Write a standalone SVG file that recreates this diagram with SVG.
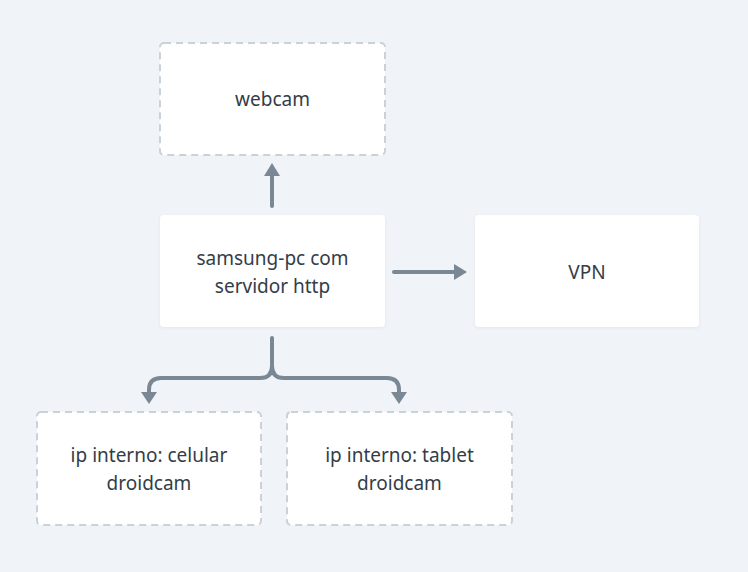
<svg xmlns="http://www.w3.org/2000/svg" width="748" height="572" viewBox="0 0 748 572">
<style>
.box{fill:#ffffff;rx:4px}
.dash{stroke:#c9d1d9;stroke-width:2;stroke-dasharray:7 5}
.solid{filter:url(#sh)}
.t{font-family:"Noto Sans","Open Sans",sans-serif;font-size:19px;fill:#333d48;text-anchor:middle}
.c{fill:none;stroke:#7a8895;stroke-width:4;stroke-linecap:round;stroke-linejoin:round}
.h{fill:#7a8895}
</style>
<defs>
<filter id="sh" x="-10%" y="-10%" width="120%" height="130%">
<feDropShadow dx="0" dy="1" stdDeviation="1.5" flood-color="#8a9aab" flood-opacity="0.15"/>
</filter>
</defs>
<rect width="748" height="572" fill="#f0f3f7"/>
<g id="connectors">
<path class="c" d="M272 206 V175"/>
<polygon class="h" points="264,176 280,176 272,163"/>
<path class="c" d="M394 272 H455"/>
<polygon class="h" points="454,264 454,280 467,272"/>
<path class="c" d="M272 338 V366 Q272 378 260 378 H161 Q149 378 149 390 V392"/>
<polygon class="h" points="141,392 157,392 149,404"/>
<path class="c" d="M272 366 Q272 378 284 378 H387 Q399 378 399 390 V392"/>
<polygon class="h" points="391,392 407,392 399,404"/>
</g>
<g id="webcam">
<rect class="box dash" x="160" y="43" width="225" height="112"/>
<text class="t" x="272.5" y="106">webcam</text>
</g>
<g id="samsung">
<rect class="box solid" x="160" y="215" width="225" height="112"/>
<text class="t" x="272.5" y="265">samsung-pc com</text>
<text class="t" x="272.5" y="293">servidor http</text>
</g>
<g id="vpn">
<rect class="box solid" x="475" y="215" width="224" height="112"/>
<text class="t" x="587" y="279">VPN</text>
</g>
<g id="celular">
<rect class="box dash" x="37" y="412" width="224" height="113"/>
<text class="t" x="149" y="462">ip interno: celular</text>
<text class="t" x="149" y="490">droidcam</text>
</g>
<g id="tablet">
<rect class="box dash" x="287" y="412" width="225" height="113"/>
<text class="t" x="399.5" y="462">ip interno: tablet</text>
<text class="t" x="399.5" y="490">droidcam</text>
</g>
</svg>
